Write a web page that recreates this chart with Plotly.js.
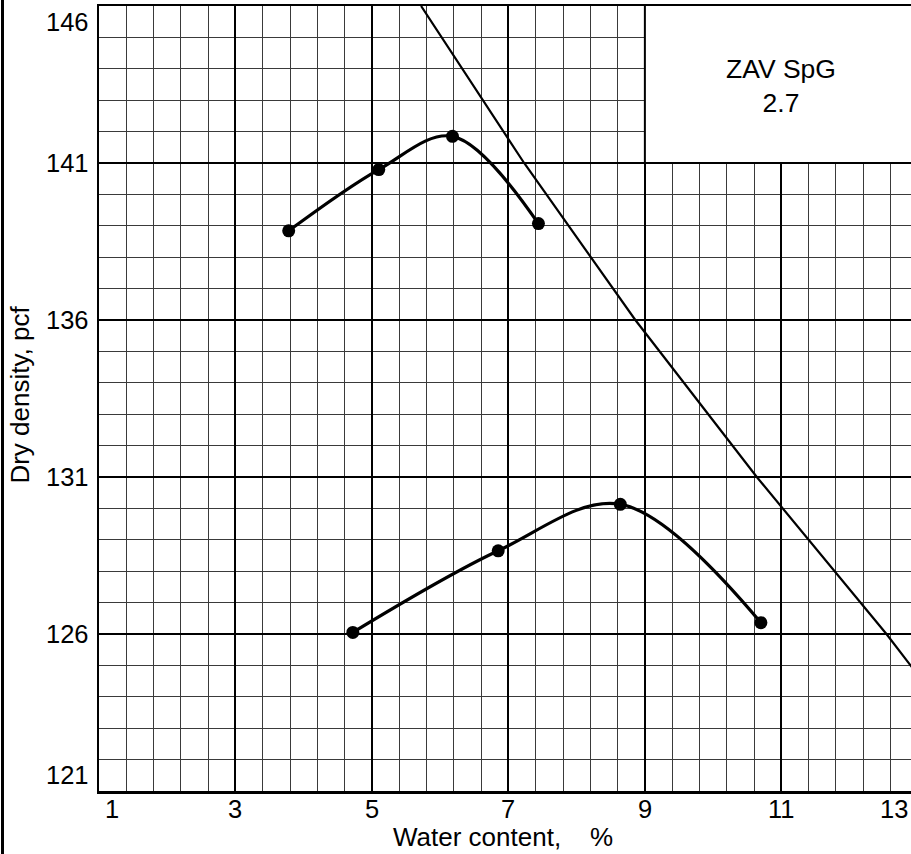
<!DOCTYPE html>
<html><head><meta charset="utf-8">
<script src="https://cdn.plot.ly/plotly-3.0.1.min.js"></script>
<style>html,body{margin:0;padding:0;overflow:hidden;background:#fff}#chart{width:911px;height:854px}</style>
</head><body><div id="chart"></div>
<script>
// ---- data ----
const xTicks = [1, 3, 5, 7, 9, 11, 13];
const xTickLabels = ['1', '3', '5', '7', '9', '11', '13'];
const yTicks = [121, 126, 131, 136, 141, 146];
const yTickLabels = ['121', '126', '131', '136', '141', '146'];

const upperWater = [3.78, 5.10, 6.18, 7.44];
const upperDensity = [138.84, 140.79, 141.85, 139.07];

const lowerWater = [4.72, 6.85, 8.64, 10.70];
const lowerDensity = [126.05, 128.65, 130.13, 126.36];

const zavWater = [5.72, 7.23, 8.86, 10.64, 12.54, 13.0];
const zavDensity = [146, 141, 136, 131, 126, 124.7];

const zavLabel = 'ZAV SpG<br>2.7';
const xTitle = 'Water content,\u00a0\u00a0\u00a0\u00a0%';
const yTitle = 'Dry density, pcf';

// ---- layout ----
const xRange = [1, 12.9];
const yRange = [121, 146];
const FONT = 'Arial, "Liberation Sans", sans-serif';
const tickFont = {family: FONT, size: 25.5, color: '#000'};

const lineStyle = {shape: 'spline', smoothing: 1, color: '#000', width: 3.2};
const markerStyle = {size: 13, color: '#000'};

const traces = [
  {x: zavWater, y: zavDensity, mode: 'lines', line: {color: '#000', width: 2.2}, hoverinfo: 'skip'},
  {x: upperWater, y: upperDensity, mode: 'lines+markers', line: lineStyle, marker: markerStyle},
  {x: lowerWater, y: lowerDensity, mode: 'lines+markers', line: lineStyle, marker: markerStyle}
];

const annotations = [];
xTicks.forEach((v, i) => {
  const first = i === 0, last = i === xTicks.length - 1;
  annotations.push({
    xref: 'x', yref: 'paper',
    x: Math.min(Math.max(v, xRange[0]), xRange[1]), y: 0,
    text: xTickLabels[i], showarrow: false, font: tickFont,
    xanchor: first ? 'left' : (last ? 'right' : 'center'),
    yanchor: 'top', xshift: first ? 4 : (last ? -1 : 0), yshift: -2
  });
});
yTicks.forEach((v, i) => {
  const first = i === 0, last = i === yTicks.length - 1;
  annotations.push({
    xref: 'paper', yref: 'y', x: 0, y: v,
    text: yTickLabels[i], showarrow: false, font: tickFont,
    xanchor: 'right', xshift: -8,
    yanchor: first ? 'bottom' : (last ? 'top' : 'middle')
  });
});
annotations.push({
  xref: 'paper', yref: 'paper', x: 0.497, y: 0, yanchor: 'top', yshift: -29,
  text: xTitle, showarrow: false, font: {family: FONT, size: 26, color: '#000'}
});
annotations.push({
  xref: 'paper', yref: 'paper', x: (20 - 99) / 812, y: 0.505, textangle: -90,
  xanchor: 'center', yanchor: 'middle',
  text: yTitle, showarrow: false, font: {family: FONT, size: 26, color: '#000'}
});
annotations.push({
  xref: 'x', yref: 'y', x: 11, y: 143.45, xanchor: 'center', yanchor: 'middle',
  text: zavLabel, showarrow: false, font: {family: FONT, size: 26.5, color: '#000'}
});

const fineAxis = {
  tickmode: 'linear', showticklabels: false, ticks: '', zeroline: false,
  showgrid: true, gridcolor: '#3a3a3a', gridwidth: 1, showline: false
};
const boldAxis = {
  tickmode: 'linear', showticklabels: false, ticks: '', zeroline: false,
  showgrid: true, gridcolor: '#000', gridwidth: 2
};

const layout = {
  width: 911, height: 854,
  margin: {l: 99, r: 0, t: 6, b: 63, pad: 0},
  paper_bgcolor: '#fff', plot_bgcolor: '#fff',
  showlegend: false,
  xaxis: Object.assign({}, fineAxis, {range: xRange, tick0: 1, dtick: 0.4}),
  yaxis: Object.assign({}, fineAxis, {range: yRange, tick0: 121, dtick: 1}),
  xaxis2: Object.assign({}, boldAxis, {range: xRange, tick0: 1, dtick: 2, overlaying: 'x',
    showline: true, linecolor: '#000', linewidth: 2.5, mirror: true}),
  yaxis2: Object.assign({}, boldAxis, {range: yRange, tick0: 121, dtick: 5, overlaying: 'y',
    showline: true, linecolor: '#000', linewidth: 2.5, mirror: false}),
  shapes: [
    {type: 'rect', xref: 'x', yref: 'y', x0: 9, x1: 14, y0: 141, y1: 147,
     fillcolor: '#fff', line: {color: '#000', width: 2}, layer: 'between'},
    {type: 'line', xref: 'paper', yref: 'paper', x0: (2.5 - 99) / 812, x1: (2.5 - 99) / 812,
     y0: -0.2, y1: 1.2, line: {color: '#000', width: 3}}
  ],
  annotations: annotations
};
// invisible trace that activates the overlaid bold-grid axes
traces.push({x: [xRange[0]], y: [yRange[0]], xaxis: 'x2', yaxis: 'y2', mode: 'markers',
  marker: {opacity: 0}, hoverinfo: 'skip'});

Plotly.newPlot('chart', traces, layout, {staticPlot: true, displayModeBar: false});
</script>
</body></html>
